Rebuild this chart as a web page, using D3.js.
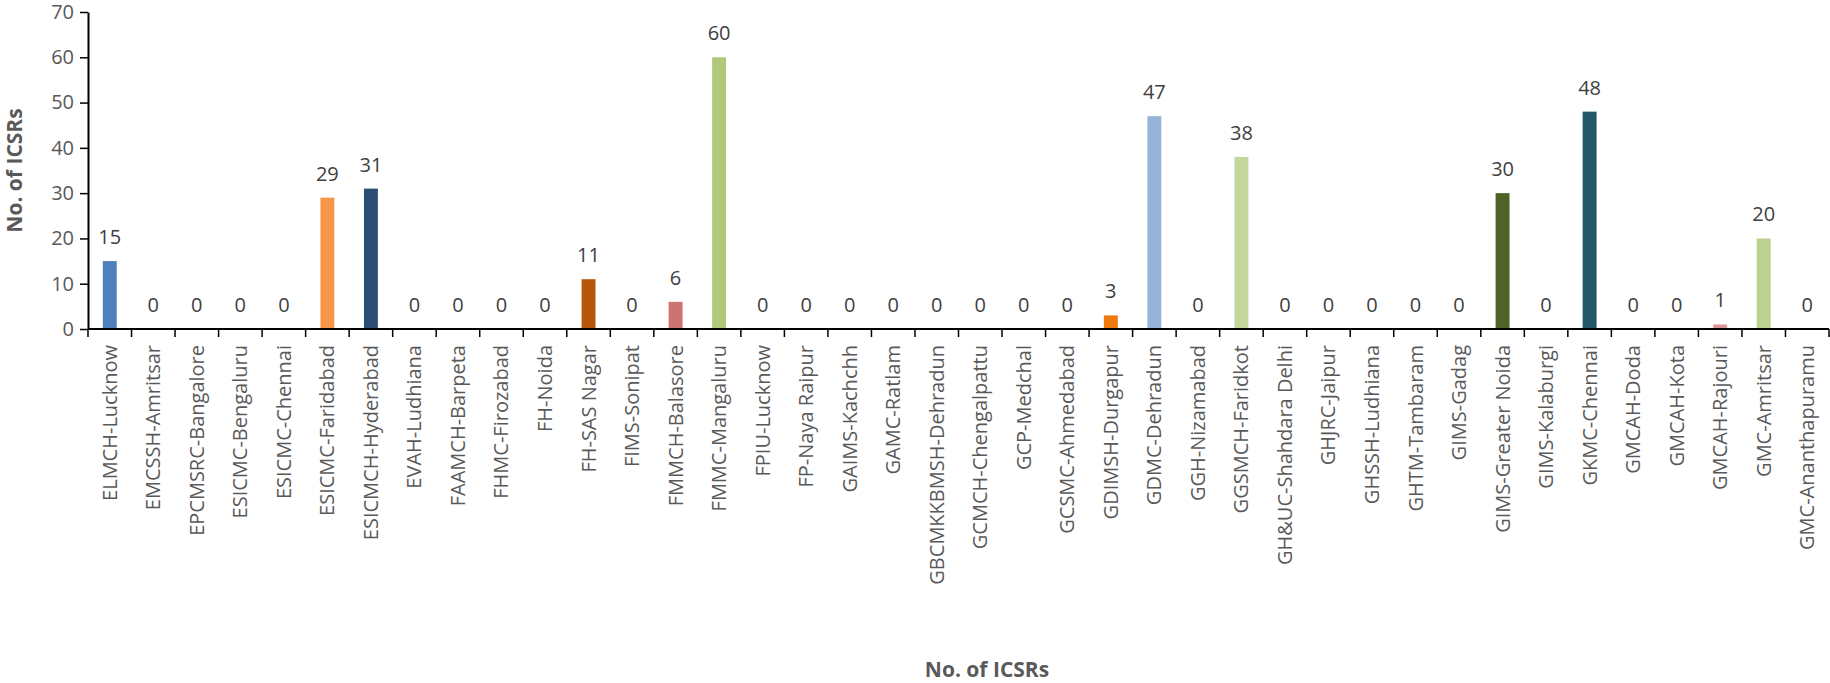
<!DOCTYPE html>
<html>
<head>
<meta charset="utf-8">
<script src="https://cdn.jsdelivr.net/npm/d3@7"></script>
<style>
  body { margin: 0; background: #fff; }
  text { font-family: "Open Sans", sans-serif; }
</style>
</head>
<body>
<div id="vis"></div>
<script>

var categories = ["ELMCH-Lucknow", "EMCSSH-Amritsar", "EPCMSRC-Bangalore", "ESICMC-Bengaluru", "ESICMC-Chennai",
  "ESICMC-Faridabad", "ESICMCH-Hyderabad", "EVAH-Ludhiana", "FAAMCH-Barpeta", "FHMC-Firozabad", "FH-Noida",
  "FH-SAS Nagar", "FIMS-Sonipat", "FMMCH-Balasore", "FMMC-Mangaluru", "FPIU-Lucknow", "FP-Naya Raipur",
  "GAIMS-Kachchh", "GAMC-Ratlam", "GBCMKKBMSH-Dehradun", "GCMCH-Chengalpattu", "GCP-Medchal", "GCSMC-Ahmedabad",
  "GDIMSH-Durgapur", "GDMC-Dehradun", "GGH-Nizamabad", "GGSMCH-Faridkot", "GH&UC-Shahdara Delhi", "GHJRC-Jaipur",
  "GHSSH-Ludhiana", "GHTM-Tambaram", "GIMS-Gadag", "GIMS-Greater Noida", "GIMS-Kalaburgi", "GKMC-Chennai",
  "GMCAH-Doda", "GMCAH-Kota", "GMCAH-Rajouri", "GMC-Amritsar", "GMC-Ananthapuramu"];

var counts = [15, 0, 0, 0, 0, 29, 31, 0, 0, 0, 0, 11, 0, 6, 60, 0, 0, 0, 0, 0, 0, 0, 0, 3, 47, 0, 38, 0, 0, 0, 0, 0,
  30, 0, 48, 0, 0, 1, 20, 0];

var barColors = ["#4f81bd", "#4f81bd", "#4f81bd", "#4f81bd", "#4f81bd", "#f79646", "#2c4d75", "#4f81bd", "#4f81bd",
  "#4f81bd", "#4f81bd", "#b65708", "#4f81bd", "#cd7371", "#afc97a", "#4f81bd", "#4f81bd", "#4f81bd", "#4f81bd",
  "#4f81bd", "#4f81bd", "#4f81bd", "#4f81bd", "#f07a0e", "#95b3d7", "#4f81bd", "#c4d79c", "#4f81bd", "#4f81bd",
  "#4f81bd", "#4f81bd", "#4f81bd", "#4f6228", "#4f81bd", "#215968", "#4f81bd", "#4f81bd", "#d99694", "#bcd18d",
  "#4f81bd"];

var yTicks = [0, 10, 20, 30, 40, 50, 60, 70];

var width = 1830;
var height = 683;
var plotLeft = 88, plotRight = 1829, plotTop = 12, plotBase = 329;

var svg = d3.select('#vis')
  .append('svg')
  .attr('width', width)
  .attr('height', height);

var x = d3.scaleBand()
  .domain(categories)
  .range([plotLeft, plotRight])
  .paddingInner(0.68)
  .paddingOuter(0.34);

var y = d3.scaleLinear()
  .domain([0, 70])
  .range([plotBase, plotTop]);

// y axis
var yAxisG = svg.append('g')
  .attr('transform', 'translate(' + plotLeft + ',0)')
  .call(d3.axisLeft(y).tickValues(yTicks).tickSize(8).tickSizeOuter(0).tickPadding(6));

yAxisG.select('.domain').attr('stroke', '#000').attr('stroke-width', 2);
yAxisG.selectAll('.tick line').attr('stroke', '#000').attr('stroke-width', 1.5);
yAxisG.selectAll('.tick text')
  .attr('fill', '#595959')
  .style('font-size', '20px');

// bars
svg.selectAll('.bar')
  .data(counts)
  .enter().append('rect')
  .attr('class', 'bar')
  .attr('x', function (d, i) { return x(categories[i]); })
  .attr('y', function (d) { return y(d); })
  .attr('width', x.bandwidth())
  .attr('height', function (d) { return plotBase - y(d); })
  .attr('fill', function (d, i) { return barColors[i]; });

// value labels
svg.selectAll('.val')
  .data(counts)
  .enter().append('text')
  .attr('class', 'val')
  .attr('x', function (d, i) { return x(categories[i]) + x.bandwidth() / 2; })
  .attr('y', function (d) { return y(d) - 17; })
  .attr('text-anchor', 'middle')
  .attr('fill', '#404040')
  .style('font-size', '20px')
  .text(function (d) { return d; });

// x axis line and tick marks between categories
svg.append('line')
  .attr('x1', plotLeft).attr('x2', plotRight)
  .attr('y1', plotBase).attr('y2', plotBase)
  .attr('stroke', '#000').attr('stroke-width', 2);

var bounds = d3.range(categories.length + 1).map(function (i) { return plotLeft + i * x.step(); });
svg.selectAll('.xtick')
  .data(bounds)
  .enter().append('line')
  .attr('x1', function (d) { return d; }).attr('x2', function (d) { return d; })
  .attr('y1', plotBase).attr('y2', plotBase + 8)
  .attr('stroke', '#000').attr('stroke-width', 1.5);

// category labels
svg.selectAll('.xlab')
  .data(categories)
  .enter().append('text')
  .attr('class', 'xlab')
  .attr('transform', function (d) {
    return 'translate(' + (x(d) + x.bandwidth() / 2 + 7) + ',' + (plotBase + 16) + ') rotate(-90)';
  })
  .attr('text-anchor', 'end')
  .attr('fill', '#595959')
  .style('font-size', '20px')
  .text(function (d) { return d; });

// axis titles
svg.append('text')
  .attr('transform', 'translate(22,' + ((plotTop + plotBase) / 2) + ') rotate(-90)')
  .attr('text-anchor', 'middle')
  .attr('fill', '#595959')
  .style('font-size', '21px')
  .style('font-weight', 'bold')
  .text('No. of ICSRs');

svg.append('text')
  .attr('x', 987)
  .attr('y', 677)
  .attr('text-anchor', 'middle')
  .attr('fill', '#595959')
  .style('font-size', '21px')
  .style('font-weight', 'bold')
  .text('No. of ICSRs');

</script>
</body>
</html>
